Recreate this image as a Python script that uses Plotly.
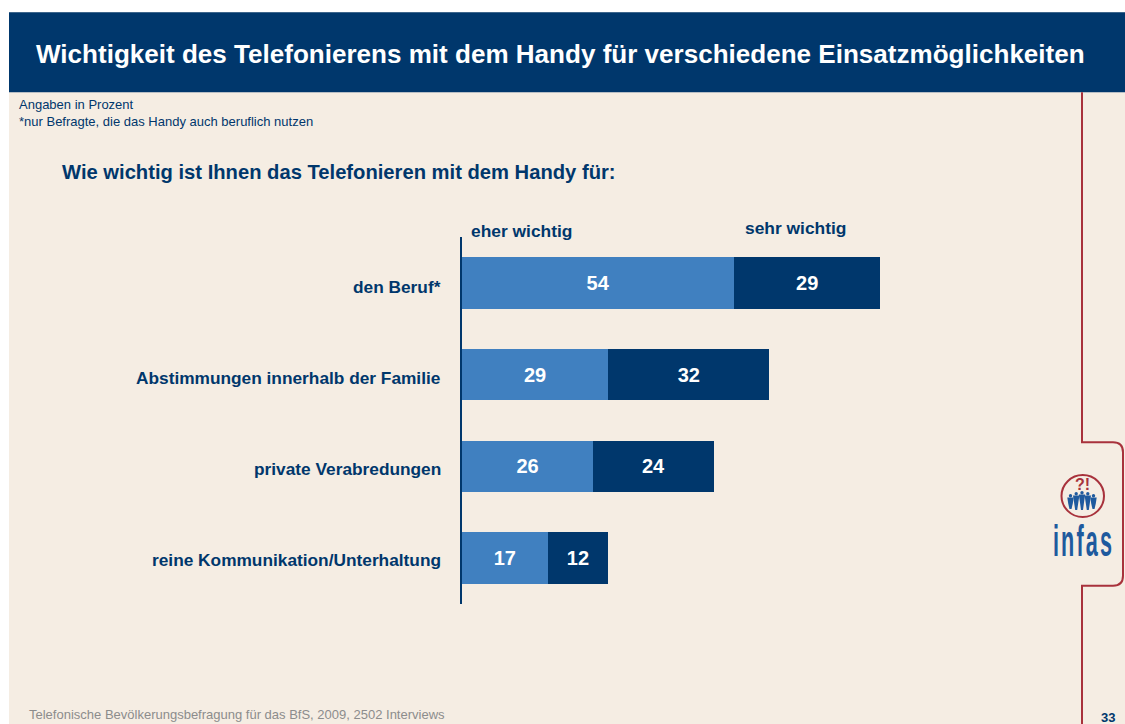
import plotly.graph_objects as go

categories = ["den Beruf*", "Abstimmungen innerhalb der Familie", "private Verabredungen", "reine Kommunikation/Unterhaltung"]
eher_wichtig = [54, 29, 26, 17]
sehr_wichtig = [29, 32, 24, 12]
series_names = ["eher wichtig", "sehr wichtig"]
title_text = "Wichtigkeit des Telefonierens mit dem Handy für verschiedene Einsatzmöglichkeiten"
question_text = "Wie wichtig ist Ihnen das Telefonieren mit dem Handy für:"
note_lines = ["Angaben in Prozent", "*nur Befragte, die das Handy auch beruflich nutzen"]
footer_text = "Telefonische Bevölkerungsbefragung für das BfS, 2009, 2502 Interviews"
page_number = "33"
logo_text = "infas"
label_nudges = [-4, -3, -3, -2]

W, H = 1125, 724
L, R, T, B = 462, 1082, 236.5, 604.5
NAVY = "#00376C"
LIGHT = "#4080C0"
BEIGE = "#F5EDE3"
RED = "#A8323C"
LOGO = "#1E5A9E"
FONT = "Liberation Sans"

px = lambda x: (x - L) / (R - L)
py = lambda y: (B - y) / (B - T)
sy = lambda y: py(y - 0.75)  # shapes snap half a pixel low on the fractional plot top
pt = lambda x, y: f"{px(x):.5f},{sy(y):.5f}"


def rect(x0, y0, x1, y1, color):
    return dict(type="rect", xref="paper", yref="paper", x0=px(x0), x1=px(x1), y0=sy(y0), y1=sy(y1),
                fillcolor=color, line_width=0, layer="below")


def label(x, y, text, size, color=NAVY, bold=False, anchor="left"):
    return dict(xref="paper", yref="paper", x=px(x), y=py(y), text=f"<b>{text}</b>" if bold else text,
                showarrow=False, xanchor=anchor, yanchor="middle", xshift=-1 if anchor == "left" else 0,
                borderpad=0, font=dict(family=FONT, size=size, color=color))


fig = go.Figure()
for name, vals, col in [(series_names[0], eher_wichtig, LIGHT), (series_names[1], sehr_wichtig, NAVY)]:
    fig.add_bar(y=categories, x=vals, orientation="h", name=name, marker=dict(color=col, line_width=0),
                text=vals, textposition="inside", insidetextanchor="middle", textangle=0,
                textfont=dict(family=FONT, size=20, color="white", weight="bold"))

# Slide frame, red bracket and logo
shapes = [rect(9, 12, W, H + 2, BEIGE), rect(9, 12, W, 92, NAVY)]
bracket = (f"M{pt(1082, 92)} L{pt(1082, 443)} L{pt(1113, 443)} Q{pt(1123, 443)} {pt(1123, 453)} "
           f"L{pt(1123, 577)} Q{pt(1123, 587)} {pt(1113, 587)} L{pt(1082, 587)} L{pt(1082, H + 2)}")
shapes.append(dict(type="path", xref="paper", yref="paper", path=bracket, line=dict(color=RED, width=2), layer="below"))
shapes.append(dict(type="circle", xref="paper", yref="paper", x0=px(1061.5), x1=px(1104), y0=sy(476), y1=sy(518),
                   line=dict(color=RED, width=2), layer="below"))
for cx, top, hgt in [(1070.5, 495, 15), (1076.2, 493, 18), (1082, 492, 19), (1087.8, 493, 18), (1093.5, 495, 15)]:
    shapes.append(dict(type="circle", xref="paper", yref="paper", x0=px(cx - 1.7), x1=px(cx + 1.7), y0=sy(top), y1=sy(top + 3.4),
                       fillcolor=LOGO, line_width=0, layer="below"))
    body = (f"M{pt(cx - 3.2, top + 3.5)} L{pt(cx + 3.2, top + 3.5)} L{pt(cx + 2.2, top + 10)} "
            f"L{pt(cx + 1, top + hgt)} L{pt(cx - 1, top + hgt)} L{pt(cx - 2.2, top + 10)} Z")
    shapes.append(dict(type="path", xref="paper", yref="paper", path=body, fillcolor=LOGO, line_width=0, layer="below"))

annotations = [
    label(36, 52.5, title_text, 26.05, "white", True),
    label(19, 104, note_lines[0], 13),
    label(19, 121, note_lines[1], 13),
    label(62, 171.5, question_text, 20.2, bold=True),
    label(471, 230, series_names[0], 17.4, bold=True),
    label(745, 227, series_names[1], 17.4, bold=True),
    label(29, 715.5, footer_text, 13, "#8C8C8C"),
    label(1101, 718.5, page_number, 13, bold=True),
    label(1082.5, 485, "?!", 16, RED, True, "center"),
    label(1083.5, 541, logo_text, 45, LOGO, True, "center"),
]
# Row labels hang off the category axis, right aligned beside it
for cat, nudge in zip(categories, label_nudges):
    annotations.append(dict(xref="x", yref="y", x=0, y=cat, text=f"<b>{cat}</b>", showarrow=False, xanchor="right",
                            yanchor="middle", xshift=-19, yshift=nudge, font=dict(family=FONT, size=17.3, color=NAVY)))

fig.update_layout(
    width=W, height=H, autosize=False, barmode="stack", bargap=0.44, showlegend=False,
    margin=dict(l=L, r=W - R, t=T, b=H - B, pad=0),
    paper_bgcolor="white", plot_bgcolor="rgba(0,0,0,0)",
    font=dict(family=FONT, color=NAVY),
    shapes=shapes, annotations=annotations,
    xaxis=dict(range=[0, (R - L) / 5.04], visible=False, fixedrange=True),
    yaxis=dict(autorange="reversed", type="category", showline=True, linecolor=NAVY, linewidth=1.5,
               ticks="", showgrid=False, zeroline=False, showticklabels=False, fixedrange=True),
)
squeeze = """
document.body.style.margin='0';document.body.style.overflow='hidden';
document.querySelectorAll('.annotation-text').forEach(function(t){
  if(t.textContent==='infas'){t.style.letterSpacing='4.5px';t.style.transformBox='fill-box';t.style.transformOrigin='center';t.style.transform='scaleX(0.48)';}
});
"""
fig.write_html("out.html", config=dict(displayModeBar=False), post_script=squeeze)
